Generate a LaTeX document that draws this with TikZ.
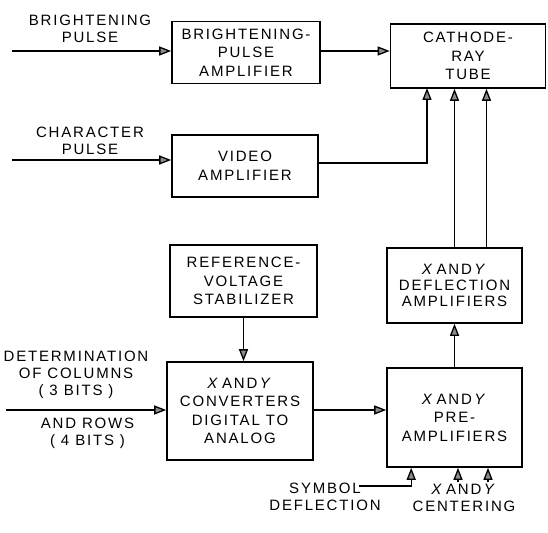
\documentclass[tikz,border=0pt]{standalone}
\usepackage{fontspec}
\setmainfont[LetterSpace=12]{Liberation Sans}
\usepackage{tikz}
\usetikzlibrary{arrows.meta,positioning,calc}
\tikzset{
  blkbox/.style  = {rectangle, draw=black, line width=1.6pt, fill=white,
                    align=center, font=\fontsize{15}{18.5}\selectfont, inner sep=2pt},
  blkflow/.style = {-{Triangle[length=12pt,width=9pt,fill=black!45]}, draw=black, line width=1.3pt},
  blklbl/.style  = {align=center, font=\fontsize{15}{17}\selectfont, inner sep=0pt},
}
\newcommand{\xy}{\textit{X}\,AND\,\textit{Y}}

\begin{document}
\begin{tikzpicture}[x=1pt,y=-1pt]
  \useasboundingbox (0,0) rectangle (548,532);

  \node[blkbox, minimum width=148pt, minimum height=62pt] (bpamp) at (246,52.5)  {BRIGHTENING-\\PULSE\\AMPLIFIER};
  \node[blkbox, minimum width=155pt, minimum height=64pt] (crt)   at (468,56)    {CATHODE-\\RAY\\TUBE};
  \node[blkbox, minimum width=146pt, minimum height=62pt] (video) at (245,166)   {VIDEO\\AMPLIFIER};
  \node[blkbox, minimum width=147pt, minimum height=72pt] (refv)  at (243.5,281) {REFERENCE-\\VOLTAGE\\STABILIZER};
  \node[blkbox, minimum width=135pt, minimum height=75pt,
        font=\fontsize{15}{16}\selectfont]                   (defl)  at (454.5,285.5) {\xy\\DEFLECTION\\AMPLIFIERS};
  \node[blkbox, minimum width=146pt, minimum height=98pt] (conv)  at (240,411)   {\xy\\CONVERTERS\\DIGITAL TO\\ANALOG};
  \node[blkbox, minimum width=135pt, minimum height=99pt] (pre)   at (454.5,417.5) {\xy\\PRE-\\AMPLIFIERS};

  % inputs and their labels
  \node[blklbl] (brlbl)  at (90,29)    {BRIGHTENING\\PULSE};
  \node[blklbl] (chlbl)  at (90,141)   {CHARACTER\\PULSE};
  \node[blklbl] (collbl) at (76,375)   {DETERMINATION\\OF COLUMNS\\( 3 BITS )};
  \node[blklbl] (rowlbl) at (87.5,433.5) {AND ROWS\\( 4 BITS )};
  \node[blklbl] (symlbl) at (325,496.5) {SYMBOL\\DEFLECTION};
  \node[blklbl] (cenlbl) at (464,498)  {\xy\\CENTERING};

  \coordinate (brin)  at (12,51);
  \coordinate (chin)  at (12,160);
  \coordinate (colin) at (6,410);
  \coordinate (symin) at (359,486);
  \coordinate (cxin)  at (458,482);
  \coordinate (cyin)  at (488,482);
  \coordinate (vidin) at (427,88);

  \draw[blkflow] (brin) -- (brin -| bpamp.west);
  \draw[blkflow] (chin) -- (chin -| video.west);
  \draw[blkflow] (colin) -- (colin -| conv.west);
  \draw[blkflow] (bpamp.east |- brin) -- (crt.west |- brin);
  \draw[blkflow] ($(video.east)+(0,-3)$) -| (vidin);
  \draw[blkflow] (defl.north) -- (defl.north |- crt.south);
  \draw[blkflow] ($(defl.north)+(32,0)$) -- ($(defl.north |- crt.south)+(32,0)$);
  \draw[blkflow] (pre.north) -- (defl.south);
  \draw[blkflow] (conv.east |- colin) -- (colin -| pre.west);
  \draw[blkflow] (refv.south) -- (refv.south |- conv.north);
  \draw[blkflow] (symin) -| ($(pre.south west)+(25,0)$);
  \draw[blkflow] (cxin) -- (cxin |- pre.south);
  \draw[blkflow] (cyin) -- (cyin |- pre.south);
\end{tikzpicture}
\end{document}
